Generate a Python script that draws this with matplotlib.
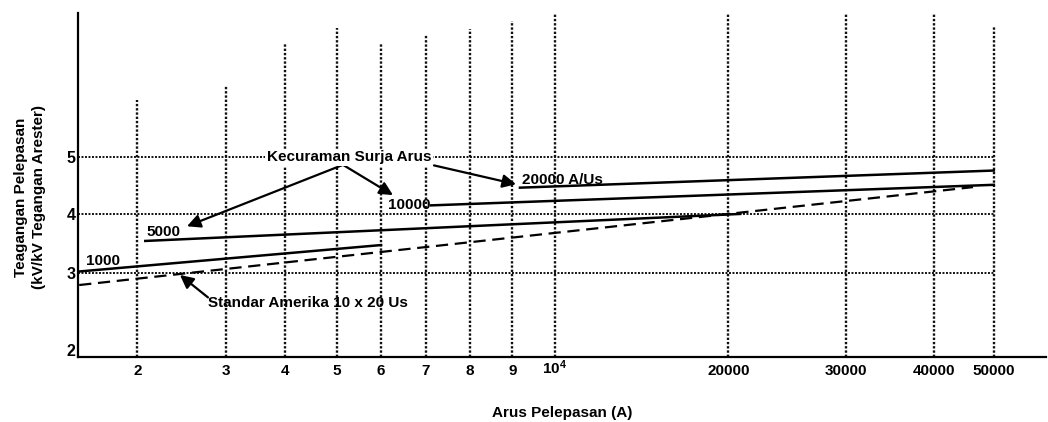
import numpy as np
import matplotlib
matplotlib.use('Agg')
from matplotlib import pyplot as plt
from matplotlib.transforms import ScaledTranslation

plt.rcParams['font.family'] = ['Liberation Sans', 'DejaVu Sans']
plt.rcParams['mathtext.fontset'] = 'custom'
plt.rcParams['mathtext.rm'] = 'Liberation Sans'
plt.rcParams['mathtext.bf'] = 'Liberation Sans:bold'

# arus pelepasan (A) vs tegangan pelepasan (kV/kV tegangan arester)
x_1000 = [1345, 6000]
y_1000 = [3.02, 3.47]
x_5000 = [2090, 21000]
y_5000 = [3.54, 4.00]
x_10000 = [7120, 50000]
y_10000 = [4.15, 4.51]
x_20000 = [9180, 50000]
y_20000 = [4.46, 4.76]
x_std = [1345, 46500]
y_std = [2.84, 4.47]

xticks = [2000, 3000, 4000, 5000, 6000, 7000, 8000, 9000, 10000,
          20000, 30000, 40000, 50000]
xticklabels = ['2', '3', '4', '5', '6', '7', '8', '9', r'$\mathbf{10^4}$',
               '20000', '30000', '40000', '50000']
grid_tops = [5.99, 6.24, 6.99, 7.25, 6.99, 7.12, 7.23, 7.36, 7.48,
             7.49, 7.49, 7.50, 7.26]
yticks = [2, 3, 4, 5]
ygrid = [3, 4, 5]

# the printed axes are hand drawn, so the scales follow the drawn tick spacing
xv = [1000, 2000, 3000, 4000, 5000, 6000, 7000, 8000, 9000, 10000,
      20000, 30000, 40000, 50000, 60000]
xp = [48.6, 137.3, 226, 285.3, 337, 381, 425.7, 470, 512.3, 554.8,
      728.3, 845.5, 934.3, 993.8, 1053.3]
yv = [1, 2, 3, 4, 5, 8]
yp = [-70.5, 7, 84.5, 143.3, 200.5, 373]


def fx(v): return np.interp(v, xv, xp)
def ix(p): return np.interp(p, xp, xv)
def fy(v): return np.interp(v, yv, yp)
def iy(p): return np.interp(p, yp, yv)


fig = plt.figure(figsize=(10.48, 4.22), dpi=100)
ax = fig.add_axes([78.3 / 1048, 1 - 357 / 422, (1046 - 78.3) / 1048, (357 - 13.3) / 422])
ax.set_xscale('function', functions=(fx, ix))
ax.set_yscale('function', functions=(fy, iy))
ax.set_xlim(1335, 58770)
ax.set_ylim(1.91, 7.50)

# dotted grid, drawn by hand like the original
dots = (0, (1, 0.8))
ax.vlines(xticks, 1.91, grid_tops, colors='#111111', linestyles=[dots], lw=1.7, zorder=1)
ax.hlines(ygrid, 1335, 50000, colors='#111111', linestyles=[dots], lw=1.4, zorder=1)

lw = 1.8
ax.plot(x_1000, y_1000, c='black', lw=lw, zorder=3)
ax.plot(x_5000, y_5000, c='black', lw=lw, zorder=3)
ax.plot(x_10000, y_10000, c='black', lw=lw, zorder=3)
ax.plot(x_20000, y_20000, c='black', lw=lw, zorder=3)
ax.plot(x_std, y_std, c='black', lw=1.6, ls=(0, (5.5, 3)), zorder=3)

fs = 11
kw = dict(fontsize=fs, fontweight='bold', color='black', zorder=5)
ax.text(1422, 3.20, '1000', ha='left', va='center', **kw)
ax.text(2109, 3.69, '5000', ha='left', va='center', **kw)
ax.text(6157, 4.15, '10000', ha='left', va='center', **kw)
ax.text(9221, 4.59, '20000 A/Us', ha='left', va='center', **kw)
ax.text(5273, 4.99, 'Kecuraman Surja Arus', ha='center', va='center',
        bbox=dict(fc='white', ec='none', pad=1), **kw)
ax.text(2797, 2.61, 'Standar Amerika 10 x 20 Us', ha='left', va='center', **kw)

arrow = dict(arrowstyle='-|>', color='black', lw=1.6, mutation_scale=20,
             shrinkA=0, shrinkB=0)
ax.annotate('', xy=(2560, 3.79), xytext=(5136, 4.86), arrowprops=arrow, zorder=4)
ax.annotate('', xy=(6268, 4.33), xytext=(5136, 4.86), arrowprops=arrow, zorder=4)
ax.annotate('', xy=(9087, 4.52), xytext=(7187, 4.85), arrowprops=arrow, zorder=4)
ax.annotate('', xy=(2481, 2.97), xytext=(2797, 2.68), arrowprops=arrow, zorder=4)

ax.set_xticks(xticks)
ax.set_xticklabels(xticklabels, fontsize=fs, fontweight='bold')
ax.set_yticks(yticks)
ax.set_yticklabels([str(t) for t in yticks], fontsize=fs + 0.5, fontweight='bold')
ax.minorticks_off()
ax.tick_params(axis='x', length=0, pad=5)
ax.tick_params(axis='y', length=0, pad=2)

# the superscript label sits lower than the plain digits, lift it a little
lab = ax.xaxis.get_major_ticks()[8].label1
lab.set_transform(lab.get_transform() + ScaledTranslation(0, 4 / 72, fig.dpi_scale_trans))

for s in ['top', 'right']:
    ax.spines[s].set_visible(False)
for s in ['left', 'bottom']:
    ax.spines[s].set_linewidth(1.6)
    ax.spines[s].set_color('black')

fig.text(562 / 1048, 1 - 413 / 422, 'Arus Pelepasan (A)', ha='center', va='center',
         fontsize=fs, fontweight='bold')
fig.text(30 / 1048, 1 - 197 / 422, 'Teagangan Pelepasan\n(kV/kV Tegangan Arester)',
         ha='center', va='center', rotation=90, multialignment='center',
         linespacing=1.4, fontsize=fs, fontweight='bold')

fig.savefig('out.png', dpi=100, facecolor='white')
